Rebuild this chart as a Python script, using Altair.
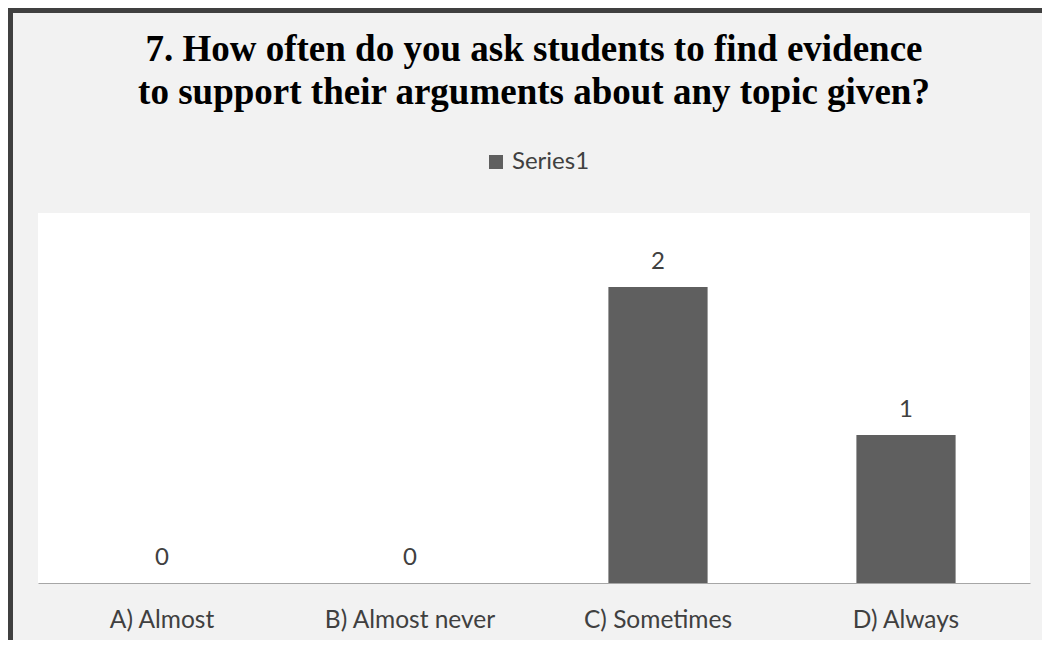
import altair as alt
import pandas as pd

categories = ["A) Almost", "B) Almost never", "C) Sometimes", "D) Always"]
values = [0, 0, 2, 1]
series = ["Series1"] * 4
title_lines = ["7. How often do you ask students to find evidence",
               "to support their arguments about any topic given?"]

df = pd.DataFrame({"category": categories, "value": values, "series": series})

LABEL_FONT = "Lato"

x = alt.X("category:N", sort=categories, title=None,
          scale=alt.Scale(paddingInner=0.6, paddingOuter=0.3),
          axis=alt.Axis(labelAngle=0, labelFont=LABEL_FONT, labelFontSize=24.5,
                        labelColor="#404040", ticks=False, domainColor="#a6a6a6",
                        domainWidth=1, labelPadding=44, labelBaseline="alphabetic"))
y = alt.Y("value:Q", title=None, axis=None, scale=alt.Scale(domain=[0, 2.5]))

bars = alt.Chart(df).mark_bar(color="#5f5f5f").encode(
    x=x, y=y,
    color=alt.Color("series:N", title=None,
                    scale=alt.Scale(domain=["Series1"], range=["#5f5f5f"]),
                    legend=alt.Legend(orient="none", legendX=446, legendY=-63,
                                      symbolType="square", symbolSize=196,
                                      symbolStrokeWidth=0,
                                      labelFont=LABEL_FONT, labelFontSize=24,
                                      labelColor="#404040", padding=0)),
)

labels = alt.Chart(df).mark_text(font=LABEL_FONT, fontSize=24, color="#404040",
                                 baseline="alphabetic", dy=-18).encode(
    x=alt.X("category:N", sort=categories), y=y, text="value:Q")

frame_left = alt.Chart(df).mark_rule(color="#404040", strokeWidth=5).encode(
    x=alt.value(-27.5), y=alt.value(-205), y2=alt.value(430))
frame_top = alt.Chart(df).mark_rule(color="#404040", strokeWidth=5).encode(
    y=alt.value(-202.5), x=alt.value(-30), x2=alt.value(1005))

chart = alt.layer(bars, labels, frame_left, frame_top).properties(
    width=992, height=370,
    padding={"left": 30, "top": 205, "right": 12, "bottom": 57},
    autosize=alt.AutoSizeParams(type="none"),
    background="#f2f2f2",
    title=alt.Title(title_lines, anchor="middle", font="Liberation Serif",
                    fontSize=37, fontWeight="bold", color="#000000",
                    lineHeight=43, offset=-106),
).configure_view(fill="white", stroke=None)

chart.save("out.html", embed_options={"renderer": "svg", "actions": False})
